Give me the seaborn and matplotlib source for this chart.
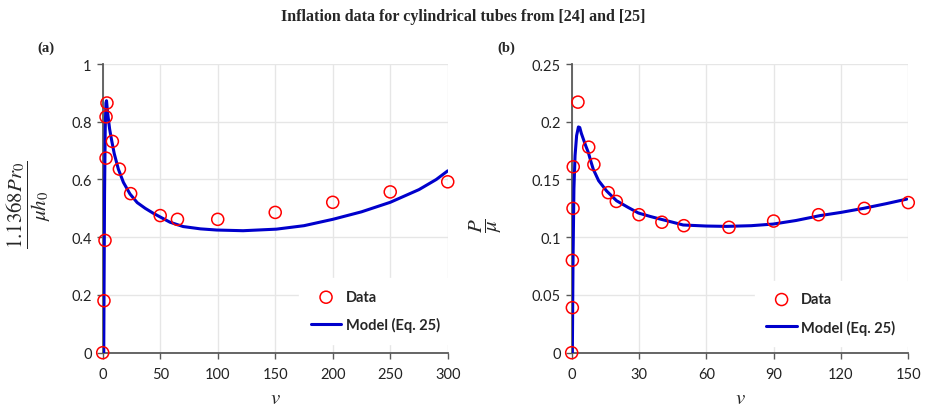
import numpy as np
import pandas as pd
import matplotlib
matplotlib.use("Agg")
import matplotlib.pyplot as plt
import seaborn as sns

# data
data_v_a = [0, 1.1, 2, 2.9, 2.9, 3.7, 8.4, 14.5, 24.3, 50, 65, 100, 150, 200, 250, 300]
data_p_a = [0, 0.18, 0.389, 0.674, 0.817, 0.865, 0.732, 0.636, 0.551, 0.475, 0.462, 0.462, 0.486, 0.521, 0.557, 0.592]

model_v_a = [0.9, 1.2, 1.6, 2.2, 2.8, 3.3, 4.3, 6, 7.8, 10, 13.6, 18, 23.7, 30, 37, 44, 51, 58.5,
             70, 85, 99, 122, 151, 175, 200, 225, 250, 275, 290, 300]
model_p_a = [0, 0.25, 0.55, 0.78, 0.865, 0.873, 0.83, 0.775, 0.735, 0.69, 0.636, 0.59, 0.55, 0.52, 0.50,
             0.483, 0.468, 0.452, 0.437, 0.429, 0.425, 0.4226, 0.428, 0.44, 0.462, 0.488, 0.521, 0.565, 0.60, 0.63]

data_v_b = [0, 0.3, 0.3, 0.6, 0.7, 2.8, 7.6, 9.9, 16.3, 19.9, 30, 40.2, 50, 70.1, 90, 110, 130.4, 150]
data_p_b = [0, 0.039, 0.080, 0.125, 0.161, 0.217, 0.178, 0.163, 0.1386, 0.131, 0.1195, 0.113, 0.110,
            0.1086, 0.114, 0.1195, 0.125, 0.130]

model_v_b = [0.3, 0.6, 1.0, 1.5, 2.2, 3.0, 3.6, 4.3, 5.2, 6.3, 7.4, 8.5, 9.6, 12, 15.6, 20, 25, 29.7, 35,
             39.3, 45, 49.7, 60, 69, 80, 89.8, 100, 110.6, 120, 130, 140, 149.3]
model_p_b = [0, 0.08, 0.142, 0.1706, 0.188, 0.1955, 0.195, 0.19, 0.185, 0.179, 0.1735, 0.166, 0.159, 0.149,
             0.140, 0.1316, 0.126, 0.121, 0.118, 0.1158, 0.113, 0.1106, 0.1097, 0.1094, 0.110, 0.1114,
             0.1145, 0.1187, 0.1215, 0.125, 0.129, 0.133]

xticks_a = [0, 50, 100, 150, 200, 250, 300]
yticks_a = [0, 0.2, 0.4, 0.6, 0.8, 1]
xticks_b = [0, 30, 60, 90, 120, 150]
yticks_b = [0, 0.05, 0.1, 0.15, 0.2, 0.25]

sns.set_style("white")
plt.rcParams['font.family'] = ['Lato', 'DejaVu Sans']
plt.rcParams['mathtext.fontset'] = 'stix'

fig = plt.figure(figsize=(9.27, 4.10), dpi=100)
ax1 = fig.add_axes([0.1108, 0.1373, 0.3722, 0.7041])
ax2 = fig.add_axes([0.6167, 0.1373, 0.3631, 0.7041])

panels = [
    (ax1, data_v_a, data_p_a, model_v_a, model_p_a, xticks_a, yticks_a,
     r'$\dfrac{1.1368Pr_0}{\mu h_0}$', 15, -0.215, 0.515, (0.79, 0.144)),
    (ax2, data_v_b, data_p_b, model_v_b, model_p_b, xticks_b, yticks_b,
     r'$\dfrac{P}{\mu}$', 15, -0.255, 0.445, (0.77, 0.136)),
]

for ax, dv, dp, mv, mp, xt, yt, ylab, yfs, lx, ly, legpos in panels:
    df_d = pd.DataFrame({"v": dv, "p": dp})
    df_m = pd.DataFrame({"v": mv, "p": mp})
    sns.lineplot(data=df_m, x="v", y="p", ax=ax, color="#0000CC", linewidth=2.2,
                 sort=False, estimator=None, label="Model (Eq. 25)", zorder=3)
    sns.scatterplot(data=df_d, x="v", y="p", ax=ax, marker="o", s=75,
                    facecolor="none", edgecolor="#FF0000", linewidth=1.1,
                    label="Data", zorder=4, clip_on=False)
    ax.set_xlim(xt[0], xt[-1])
    ax.set_ylim(yt[0], yt[-1])
    ax.set_xticks(xt)
    ax.set_yticks(yt)
    ax.set_xticklabels([f"{t:g}" for t in xt])
    ax.set_yticklabels([f"{t:g}" for t in yt])
    ax.grid(True, color="#e6e6e6", linewidth=1)
    ax.set_axisbelow(True)
    for s in ["top", "right"]:
        ax.spines[s].set_visible(False)
    for s in ["left", "bottom"]:
        ax.spines[s].set_color("#595959")
        ax.spines[s].set_linewidth(1.3)
    ax.tick_params(axis="both", direction="out", length=4, width=1, color="#595959",
                   labelsize=10.5, labelcolor="#222222", pad=4,
                   bottom=True, left=True)
    ax.tick_params(axis="x", pad=6)
    ax.set_xlabel(r'$v$', fontsize=15)
    ax.xaxis.set_label_coords(0.5, -0.12)
    ax.set_ylabel(ylab, fontsize=yfs, rotation=90, va="center", ha="center")
    ax.yaxis.set_label_coords(lx, ly)
    h, l = ax.get_legend_handles_labels()
    order = [l.index("Data"), l.index("Model (Eq. 25)")]
    leg = ax.legend([h[i] for i in order], [l[i] for i in order], loc="center",
                    bbox_to_anchor=legpos, frameon=True, facecolor="white", edgecolor="white",
                    framealpha=1, fancybox=False, handlelength=2.1, handletextpad=0.3,
                    labelspacing=0.9, prop={"weight": "bold", "size": 10.5}, borderpad=0.8)

fig.suptitle("Inflation data for cylindrical tubes from [24] and [25]", y=0.977,
             fontsize=11.5, fontweight="bold", family="Liberation Serif")
fig.text(0.05, 0.883, "(a)", fontsize=10.5, fontweight="bold", family="Liberation Serif",
         ha="center", va="center")
fig.text(0.546, 0.883, "(b)", fontsize=10.5, fontweight="bold", family="Liberation Serif",
         ha="center", va="center")

plt.savefig("out.png", dpi=100)
